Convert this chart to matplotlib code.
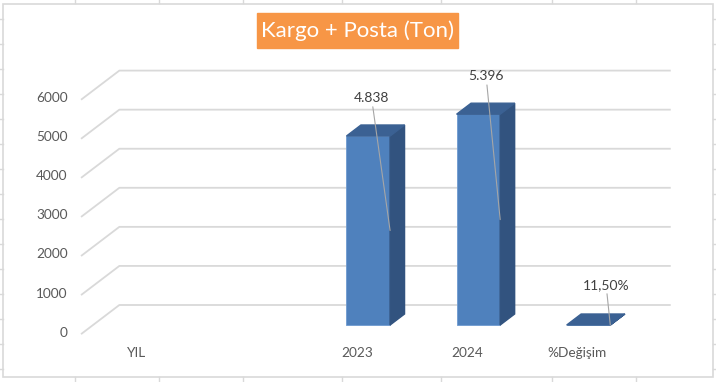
import matplotlib.pyplot as plt
from matplotlib.patches import Polygon, Rectangle
from matplotlib.lines import Line2D

# data
categories = ["YIL", "", "2023", "2024", "%Değişim"]
values = [None, None, 4838, 5396, 0.115]
value_labels = [None, None, "4.838", "5.396", "11,50%"]
yticks = [0, 1000, 2000, 3000, 4000, 5000, 6000]

plt.rcParams['font.family'] = ['Lato', 'DejaVu Sans']

# fake 3d: depth offset of back wall (category units, value units)
DX, DY = 0.3415, 732
D0, D1 = 0.30, 0.685    # bar depth range (fraction of floor depth)
W = 0.396               # bar width
front_c = '#4F81BD'
side_c = '#32537F'
top_c = '#3B6193'
grid_c = '#D9D9D9'

fig = plt.figure(figsize=(7.16, 3.82), dpi=100)
ax = fig.add_axes([0, 0, 1, 1])
ax.set_xlim(-1.2425, 5.2607)
ax.set_ylim(-1239, 8539)
ax.axis('off')

n = len(categories)
# gridlines: front-left diagonal then back wall
for v in yticks:
    ax.plot([-0.5, -0.5 + DX, n - 0.5 + DX], [v, v + DY, v + DY],
            color=grid_c, lw=1.3, zorder=1)
    ax.annotate(str(v), (-0.5, v), xytext=(-14, 1), textcoords='offset pixels',
                ha='right', va='center', fontsize=9.8, color='#595959')

for i, cat in enumerate(categories):
    ax.annotate(cat, (i, 0), xytext=(0, -19), textcoords='offset pixels',
                ha='center', va='center', fontsize=9.8, color='#595959')

label_dx = {2: 0.03, 3: 0.07, 4: 0.16}
label_dy = {2: 973, 3: 973, 4: 1024}

for i, v in enumerate(values):
    if v is None:
        continue
    xc = i + D0 * DX
    b = D0 * DY
    ax.bar(xc, v, bottom=b, width=W, color=front_c, edgecolor='#6F9BD0',
           linewidth=0.6, zorder=3)
    ddx = (D1 - D0) * DX
    ddy = (D1 - D0) * DY
    xl, xr = xc - W / 2, xc + W / 2
    side = Polygon([(xr, b), (xr, b + v), (xr + ddx, b + v + ddy), (xr + ddx, b + ddy)],
                   closed=True, color=side_c, zorder=3)
    top = Polygon([(xl, b + v), (xr, b + v), (xr + ddx, b + v + ddy), (xl + ddx, b + v + ddy)],
                  closed=True, color=top_c, zorder=3)
    ax.add_patch(side)
    ax.add_patch(top)
    ax.annotate(value_labels[i], xy=(xr, b + v / 2),
                xytext=(xc + label_dx[i], b + v + label_dy[i]),
                ha='center', va='center', fontsize=10, color='#404040', zorder=5,
                arrowprops=dict(arrowstyle='-', color='#A6A6A6', lw=0.8,
                                shrinkA=0, shrinkB=0))

# title box
fig.add_artist(Rectangle((257 / 716, 1 - 47.7 / 382), 201 / 716, 34.4 / 382,
                         transform=fig.transFigure, color='#F79646', zorder=4))
fig.text(357.5 / 716, 1 - 31 / 382, "Kargo + Posta (Ton)", ha='center', va='center',
         fontsize=16, color='white', zorder=5)

# chart frame + spreadsheet cell lines around it
fig.add_artist(Rectangle((3 / 716, 5 / 382), 710 / 716, 373 / 382, transform=fig.transFigure,
                         fill=False, ec=grid_c, lw=1.2))
for x in [75, 159, 243, 342, 441, 552, 636]:
    fig.add_artist(Line2D([x / 716, x / 716], [0, 5 / 382], transform=fig.transFigure, color=grid_c, lw=1))
    fig.add_artist(Line2D([x / 716, x / 716], [1 - 3 / 382, 1], transform=fig.transFigure, color=grid_c, lw=1))
for y in range(19, 382, 25):
    fig.add_artist(Line2D([0, 3 / 716], [1 - y / 382] * 2, transform=fig.transFigure, color=grid_c, lw=1))
    fig.add_artist(Line2D([713 / 716, 1], [1 - y / 382] * 2, transform=fig.transFigure, color=grid_c, lw=1))

fig.savefig('out.png', dpi=100)
